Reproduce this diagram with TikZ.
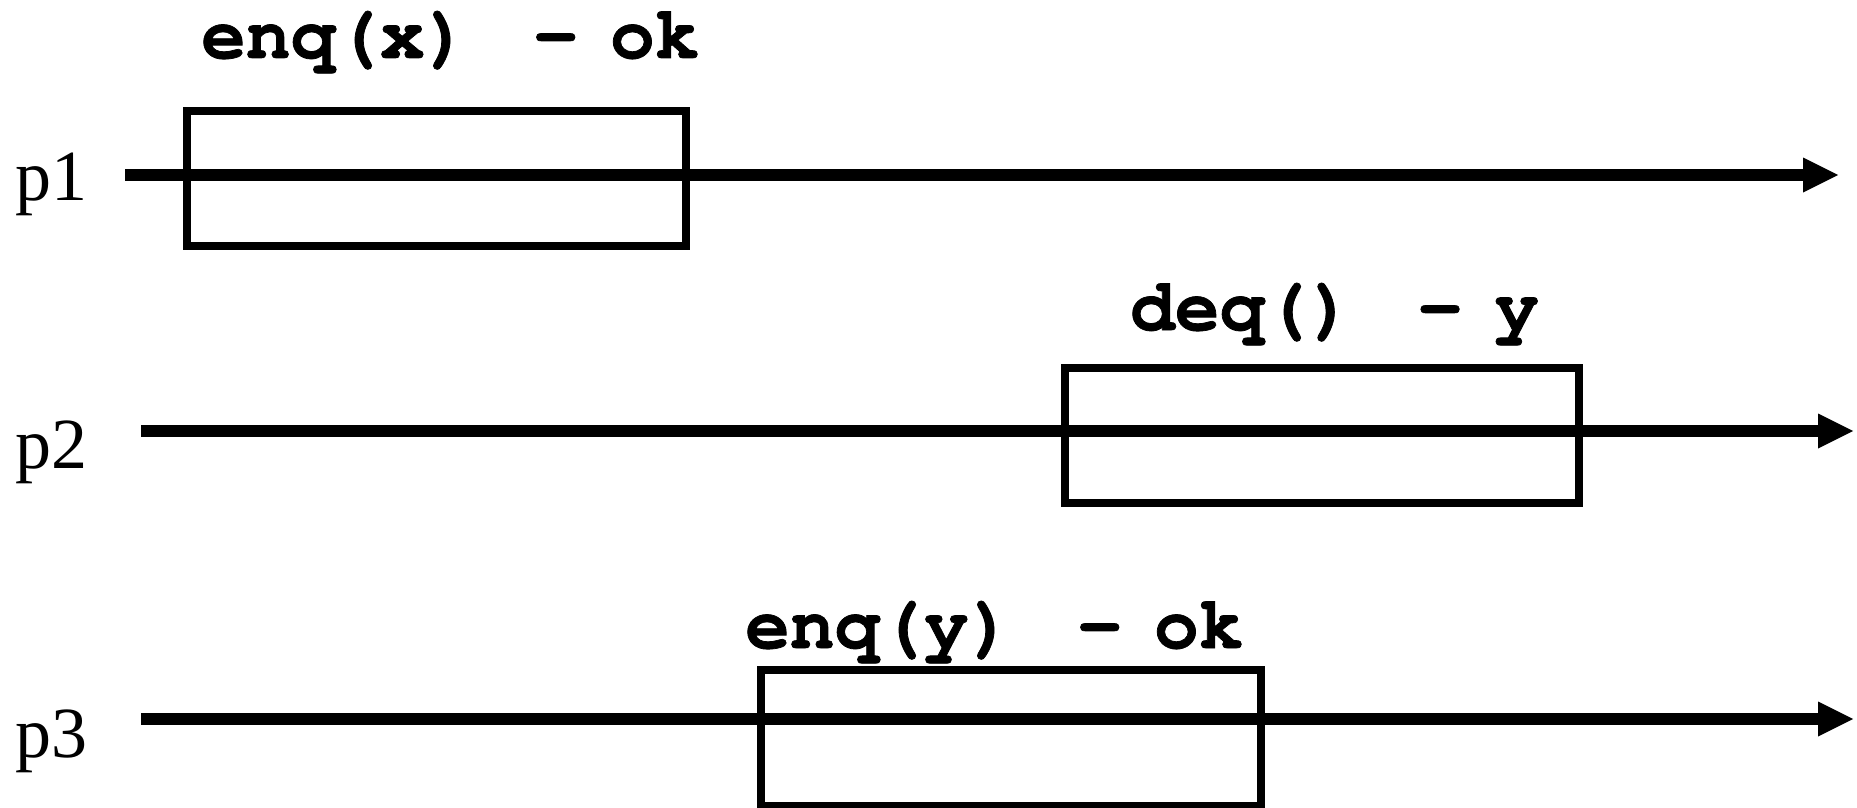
\documentclass[tikz,border=0pt]{standalone}
\usepackage{fontspec}
\usetikzlibrary{arrows.meta}
\newfontfamily\codefont{TeX Gyre Cursor}[FakeBold=1]
\newfontfamily\labfont{Liberation Serif}
\newcommand{\gapA}{\hspace{64pt}}
\newcommand{\gapB}{\hspace{32pt}}
\begin{document}
\begin{tikzpicture}[x=1pt,y=-1pt,
  timeline/.style={line width=12pt,-{Triangle[length=35pt,width=35pt,line width=0pt]}},
  opbox/.style={draw,line width=8pt,inner sep=0pt,minimum height=135.8pt},
  optext/.style={anchor=base west,inner sep=0pt,font=\codefont\bfseries\fontsize{74.5}{86}\selectfont},
  plabel/.style={anchor=base west,inner sep=0pt,font=\labfont\fontsize{72}{84}\selectfont}]
\useasboundingbox (0,0) rectangle (1857,808);
% process labels
\node[plabel] (l1) at (15,200) {p1};
\node[plabel] (l2) at (15,468) {p2};
\node[plabel] (l3) at (15,757) {p3};
% timelines
\coordinate (s1) at (125,175);  \coordinate (e1) at (1838,175);
\coordinate (s2) at (141,431);  \coordinate (e2) at (1853,431);
\coordinate (s3) at (141,719);  \coordinate (e3) at (1853,719);
\draw[timeline] (s1) -- (e1);
\draw[timeline] (s2) -- (e2);
\draw[timeline] (s3) -- (e3);
% operation boxes
\node[opbox,minimum width=499.5pt] (b1) at (436.3,178.4) {};
\node[opbox,minimum width=514pt]   (b2) at (1321.5,435.5) {};
\node[opbox,minimum width=499.5pt] (b3) at (1010.8,737.9) {};
% operation texts
\node[optext] (t1) at (201,58)   {enq(x)\gapA-\gapB ok};
\node[optext] (t2) at (1130,330) {deq()\gapA-\gapB y};
\node[optext] (t3) at (745,648)  {enq(y)\gapA-\gapB ok};
\end{tikzpicture}
\end{document}
